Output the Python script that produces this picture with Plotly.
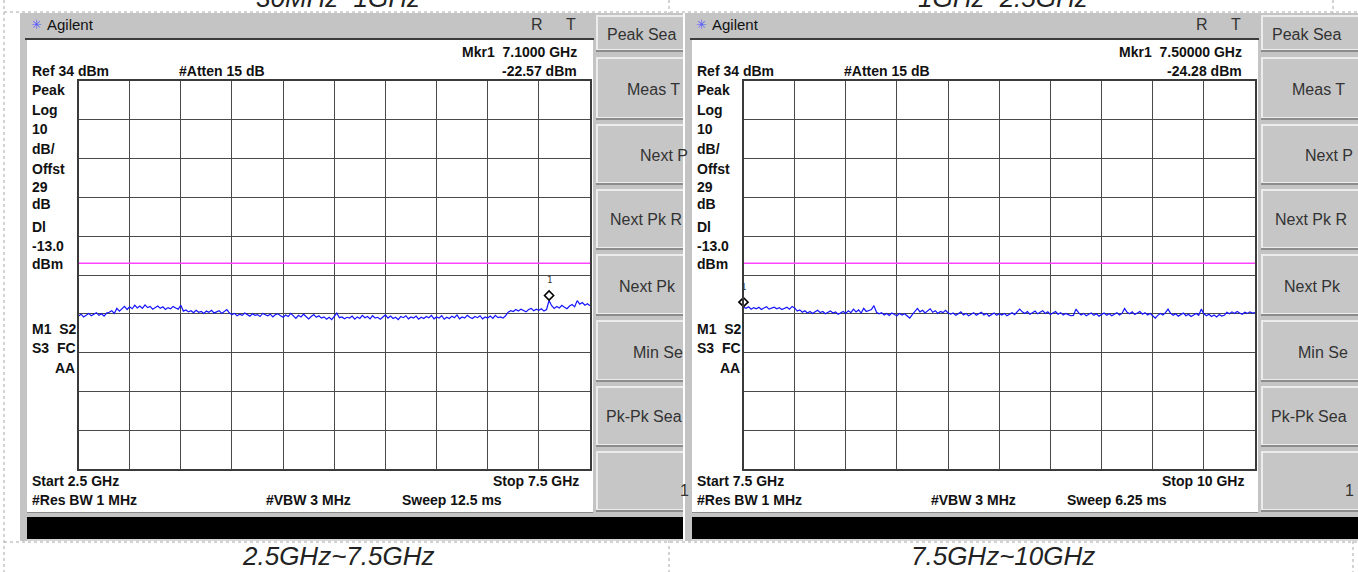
import plotly.graph_objects as go

W, H = 1358, 572

# ---------------- measurement data ----------------
sweep_start = [2.5, 7.5]      # GHz
sweep_stop = [7.5, 10.0]      # GHz
ref_level = 34                # dBm, top graticule line
db_per_div = 10
offset_db = 29
display_line = -13.0          # dBm

# 2.5 - 7.5 GHz sweep (dBm)
trace_a = [
    -26.6, -26.1, -26.8, -26.3, -25.9, -26.5, -26.2, -25.7, -26.4, -26.0, -26.6, -25.8, -25.6, -25.2, -25.9, -24.6, -25.3, -24.8, -24.1, -24.9,
    -24.2, -24.7, -23.8, -24.5, -24.0, -24.6, -23.7, -24.4, -24.1, -24.8, -24.3, -24.0, -24.6, -24.2, -24.9, -24.4, -24.7, -24.1, -24.5, -24.8,
    -23.8, -25.3, -25.0, -25.5, -25.2, -25.7, -25.1, -25.6, -25.4, -25.9, -25.3, -25.6, -25.1, -25.8, -25.5, -25.2, -25.9, -25.4, -24.9, -25.8,
    -26.2, -25.9, -26.5, -26.1, -26.4, -25.8, -26.3, -26.6, -26.0, -26.4, -26.2, -26.7, -25.9, -26.3, -26.5, -26.1, -26.8, -26.2, -26.0, -26.5,
    -26.9, -26.3, -26.7, -25.9, -26.5, -27.2, -26.4, -26.8, -26.1, -26.6, -27.3, -26.7, -26.2, -26.9, -26.5, -27.1, -26.8, -27.4, -26.9, -27.5,
    -26.6, -25.8, -27.0, -26.8, -27.3, -26.9, -27.1, -26.6, -27.4, -26.8, -27.2, -26.4, -27.0, -26.7, -27.3, -26.5, -27.1, -26.9, -27.4, -26.8,
    -26.3, -27.1, -26.6, -27.2, -26.9, -27.5, -26.7, -27.0, -26.5, -27.3, -26.8, -27.1, -26.6, -27.4, -26.9, -27.2, -26.7, -27.0, -26.4, -27.3,
    -26.8, -27.1, -26.5, -27.4, -26.9, -27.2, -26.6, -27.0, -26.3, -27.3, -26.8, -27.1, -26.4, -26.9, -27.2, -26.7, -27.0, -26.5, -27.3, -26.8,
    -27.1, -26.6, -27.2, -26.4, -27.0, -26.8, -27.1, -26.5, -25.6, -25.2, -25.4, -24.9, -25.3, -24.8, -25.1, -25.5, -24.9, -24.6, -25.2, -24.8,
    -25.1, -24.7, -25.3, -24.9, -22.57, -23.9, -24.6, -24.1, -24.5, -23.8, -24.3, -24.7, -24.0, -23.6, -24.2, -22.6, -23.5, -23.1, -23.8, -23.4,
    -23.9,
]

# 7.5 - 10 GHz sweep (dBm)
trace_b = [
    -24.28,
    -24.6, -24.2, -24.8, -24.4, -24.7, -24.3, -24.9, -24.5, -24.2, -24.8, -24.5, -24.3, -24.7, -24.4, -24.9, -24.6, -24.3, -24.8, -24.1, -24.5,
    -25.3, -25.0, -25.6, -25.2, -25.8, -25.4, -25.9, -25.5, -25.1, -25.7, -25.4, -26.0, -25.6, -25.3, -25.8, -25.5, -26.1, -25.7, -25.4, -25.9,
    -25.2, -25.7, -24.8, -25.5, -25.0, -25.8, -24.6, -25.4, -25.1, -24.9, -23.9, -25.6, -26.0, -25.7, -26.3, -25.9, -26.4, -25.8, -26.2, -26.5,
    -25.9, -26.3, -26.0, -26.6, -27.1, -26.2, -25.4, -24.6, -25.5, -25.1, -25.8, -25.3, -24.7, -25.6, -25.2, -25.9, -25.4, -25.7, -25.1, -25.8,
    -26.1, -25.8, -26.4, -26.0, -25.5, -26.3, -25.9, -26.5, -26.1, -25.7, -26.4, -26.0, -25.6, -26.3, -25.9, -26.6, -26.2, -25.8, -26.4, -26.0,
    -26.3, -25.9, -26.5, -26.1, -25.7, -26.2, -25.6, -24.8, -25.5, -25.9, -25.4, -26.1, -25.7, -25.3, -26.0, -25.6, -25.2, -25.9, -25.5, -26.2,
    -25.8, -25.4, -26.1, -25.7, -26.3, -25.9, -26.2, -26.5, -26.4, -24.8, -25.7, -26.3, -25.9, -26.5, -26.1, -25.8, -26.4, -26.0, -26.6, -26.2,
    -25.8, -26.4, -26.0, -26.5, -26.1, -25.7, -26.3, -25.9, -24.6, -25.6, -26.0, -25.5, -26.2, -25.8, -25.4, -26.1, -25.7, -26.3, -25.9, -26.5,
    -27.1, -26.4, -25.9, -26.3, -25.7, -24.8, -25.9, -26.4, -26.0, -26.6, -26.2, -25.8, -26.5, -26.1, -26.7, -26.3, -25.9, -26.4, -24.8, -26.0,
    -26.5, -26.1, -26.7, -26.3, -26.8, -26.2, -26.6, -26.4, -25.6, -26.0, -25.5, -25.9, -25.4, -25.8, -26.1, -25.6, -25.9, -25.5, -25.8, -25.7,
]

traces = [trace_a, trace_b]
marker_freq = [7.1, 7.5]          # GHz
marker_level = [-22.57, -24.28]   # dBm
marker_freq_text = ["7.1000 GHz", "7.50000 GHz"]
start_text = ["Start 2.5 GHz", "Start 7.5 GHz"]
stop_text = ["Stop 7.5 GHz", "Stop 10 GHz"]
sweep_text = ["Sweep 12.5 ms", "Sweep 6.25 ms"]
caption_top = ["30MHz~1GHz", "1GHz~2.5GHz"]
caption_bottom = ["2.5GHz~7.5GHz", "7.5GHz~10GHz"]
softkey_text = ["Peak Sea", "Meas T", "Next P", "Next Pk R", "Next Pk", "Min Se", "Pk-Pk Sea", "1"]

# ---------------- drawing helpers (pixel -> paper) ----------------
shapes, annotations = [], []
PANEL_X = [0, 665]
GRID_L, GRID_R, GRID_T, GRID_B = 78.5, 590.0, 81.0, 469.0
BOLD_FONT = "Liberation Sans, Arial, sans-serif"


def px(x):
    return x / W


def py(y):
    return 1 - y / H


def rect(x0, y0, x1, y1, fill, line_color=None, lw=0):
    shapes.append(dict(type="rect", xref="paper", yref="paper", layer="below",
                       x0=px(x0), x1=px(x1), y0=py(y1), y1=py(y0),
                       fillcolor=fill, line=dict(width=lw, color=line_color or fill)))


def hline(x0, x1, y, color, lw=1, dash="solid"):
    shapes.append(dict(type="line", xref="paper", yref="paper", layer="below",
                       x0=px(x0), x1=px(x1), y0=py(y), y1=py(y),
                       line=dict(color=color, width=lw, dash=dash)))


def vline(x, y0, y1, color, lw=1, dash="solid"):
    shapes.append(dict(type="line", xref="paper", yref="paper", layer="below",
                       x0=px(x), x1=px(x), y0=py(y0), y1=py(y1),
                       line=dict(color=color, width=lw, dash=dash)))


def text(x, y, s, size=14, bold=True, anchor="left", color="#111111",
         family=BOLD_FONT, style="normal"):
    annotations.append(dict(xref="paper", yref="paper", x=px(x), y=py(y), text=s,
                            showarrow=False, xanchor=anchor, yanchor="middle",
                            borderpad=0,
                            font=dict(family=family, size=size, color=color,
                                      weight="bold" if bold else "normal",
                                      style=style)))


# document cell borders
DOT = "#a8a8a8"
vline(4, 0, 572, DOT, 1, "dot")
vline(669, 0, 572, DOT, 1, "dot")
vline(1333, 0, 14, DOT, 1, "dot")
vline(1353, 541, 572, DOT, 1, "dot")
hline(4, 1358, 12, DOT, 1, "dot")
hline(4, 1358, 542, DOT, 1, "dot")

FRAME = "#c4c4c4"
KEY_FACE = "#c6c6c6"
BUTTONS = [(15, 52), (57, 120), (124, 185), (189, 250), (254, 316), (320, 382), (386, 447), (451, 512)]
KEY_TEXT_X = [606, 626, 639, 609, 618, 632, 605, 679]
KEY_TEXT_Y = [34, 89, 155, 220, 286, 352, 416, 490]

for p, ox in enumerate(PANEL_X):
    right_end = 683 if p == 0 else 1370
    # instrument frame
    rect(20 + ox, 13, right_end, 541, FRAME)
    # display area
    rect(27 + ox, 40, 593 + ox, 512, "white")
    hline(25 + ox, 594 + ox, 39, "#3c3c3c", 2)
    hline(27 + ox, 593 + ox, 512.5, "#8a8a8a", 1)
    # message bar
    rect(27 + ox, 517, right_end, 539, "black")
    hline(27 + ox, right_end, 540, "#e8e8e8", 1)
    # softkeys
    for (y0, y1) in BUTTONS:
        rect(596 + ox, y0, right_end, y1, "#8c8c8c")
        rect(596 + ox, y0, right_end, y1 - 2, "#ececec")
        rect(598 + ox, y0 + 2, right_end, y1 - 3, KEY_FACE)
    for s, kx, ky in zip(softkey_text, KEY_TEXT_X, KEY_TEXT_Y):
        text(kx + ox, ky, s, size=16, bold=False, color="#333333")

    # header
    text(36 + ox, 24, "✳", size=13, bold=False, anchor="center", color="#5a5aff",
         family="DejaVu Sans")
    text(46 + ox, 24, "Agilent", size=15, bold=False, color="#111111")
    text(537 + ox, 24, "R", size=16, bold=False, anchor="center", color="#333333")
    text(571 + ox, 24, "T", size=16, bold=False, anchor="center", color="#333333")

    # annotation text on the display
    text(578 + ox, 52, "Mkr1  " + marker_freq_text[p], anchor="right")
    text(31 + ox, 71, f"Ref {ref_level} dBm")
    text(178 + ox, 71, "#Atten 15 dB")
    text(578 + ox, 71, f"{marker_level[p]:.2f} dBm", anchor="right")
    left_col = [("Peak", 90), ("Log", 110), (str(db_per_div), 129), ("dB/", 149),
                ("Offst", 169), (str(offset_db), 187), ("dB", 204), ("Dl", 227),
                (f"{display_line:.1f}", 246), ("dBm", 264),
                ("M1  S2", 329), ("S3  FC", 348)]
    for s, yy in left_col:
        text(31 + ox, yy, s)
    text(76 + ox, 368, "AA", anchor="right")
    text(31 + ox, 481, start_text[p])
    text(580 + ox, 481, stop_text[p], anchor="right")
    text(31 + ox, 500, "#Res BW 1 MHz")
    text(265 + ox, 500, "#VBW 3 MHz")
    text(401 + ox, 500, sweep_text[p])

    # captions
    text(338 + ox, -2, caption_top[p], size=26, bold=False, anchor="center",
         color="#222222", style="italic")
    text(338 + ox, 556, caption_bottom[p], size=26, bold=False, anchor="center",
         color="#222222", style="italic")

# ---------------- traces ----------------
fig = go.Figure()
for p, ox in enumerate(PANEL_X):
    xa = "x" if p == 0 else "x2"
    ya = "y" if p == 0 else "y2"
    vals = traces[p]
    n = len(vals)
    step = (sweep_stop[p] - sweep_start[p]) / (n - 1)
    freqs = [sweep_start[p] + i * step for i in range(n)]
    fig.add_trace(go.Scatter(x=[sweep_start[p], sweep_stop[p]], y=[display_line, display_line],
                             mode="lines", line=dict(color="#ff44ff", width=1.5),
                             xaxis=xa, yaxis=ya, hoverinfo="skip"))
    fig.add_trace(go.Scatter(x=freqs, y=vals, mode="lines",
                             line=dict(color="#1414ff", width=1.2),
                             xaxis=xa, yaxis=ya))
    # marker 1: diamond sitting just above the marked point
    fig.add_trace(go.Scatter(x=[marker_freq[p]], y=[marker_level[p]], mode="markers",
                             marker=dict(symbol="diamond-open", size=7, color="black",
                                         line=dict(width=1.6, color="black"),
                                         angle=180, standoff=5),
                             cliponaxis=False, xaxis=xa, yaxis=ya))
    annotations.append(dict(xref=xa, yref=ya, x=marker_freq[p], y=marker_level[p],
                            yshift=20, text="1", showarrow=False,
                            font=dict(family="DejaVu Sans Mono", size=9, color="#333333")))

axis_common = dict(showgrid=True, gridcolor="#4a4a4a", gridwidth=1, showticklabels=False,
                   ticks="", showline=True, mirror=True, linecolor="#3a3a3a", linewidth=2,
                   zeroline=False, fixedrange=True)
y_lo = ref_level - 10 * db_per_div
layout_axes = {}
for p, ox in enumerate(PANEL_X):
    sfx = "" if p == 0 else "2"
    span = sweep_stop[p] - sweep_start[p]
    layout_axes["xaxis" + sfx] = dict(axis_common, domain=[px(GRID_L + ox), px(GRID_R + ox)],
                                      range=[sweep_start[p], sweep_stop[p]],
                                      tick0=sweep_start[p], dtick=span / 10,
                                      anchor="y" + sfx)
    layout_axes["yaxis" + sfx] = dict(axis_common, domain=[py(GRID_B), py(GRID_T)],
                                      range=[y_lo, ref_level], tick0=ref_level,
                                      dtick=db_per_div, anchor="x" + sfx)

fig.update_layout(width=W, height=H, margin=dict(l=0, r=0, t=0, b=0),
                  paper_bgcolor="white", plot_bgcolor="rgba(0,0,0,0)",
                  showlegend=False, shapes=shapes, annotations=annotations,
                  **layout_axes)

fig.write_html("out.html")
